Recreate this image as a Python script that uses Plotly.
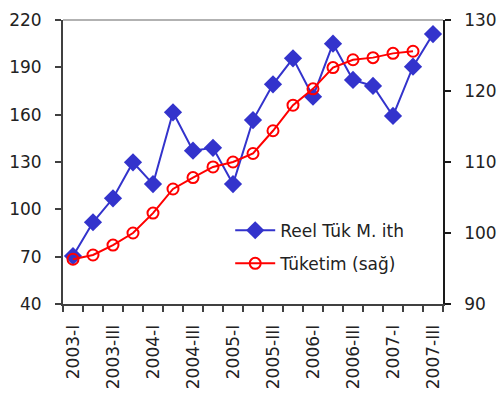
import plotly.graph_objects as go

quarters = ["2003-I", "2003-II", "2003-III", "2003-IV",
            "2004-I", "2004-II", "2004-III", "2004-IV",
            "2005-I", "2005-II", "2005-III", "2005-IV",
            "2006-I", "2006-II", "2006-III", "2006-IV",
            "2007-I", "2007-II", "2007-III"]
reel_tuk_m_ith = [70.4, 91.8, 107.0, 129.8, 116.0, 161.5, 137.2, 139.0,
                  116.0, 156.6, 179.2, 195.7, 171.4, 205.0, 182.0, 178.2,
                  159.2, 190.4, 211.1]
tuketim = [96.3, 96.9, 98.3, 100.0, 102.8, 106.2, 107.8, 109.3, 110.0,
           111.2, 114.4, 118.0, 120.3, 123.3, 124.4, 124.7, 125.3, 125.6]

x_idx = list(range(len(quarters)))
FONT = "DejaVu Sans"

fig = go.Figure()
fig.add_trace(go.Scatter(
    x=x_idx, y=reel_tuk_m_ith, name="Reel Tük M. ith", mode="lines+markers",
    legendgroup="a",
    line=dict(color="#3333CC", width=2),
    marker=dict(symbol="diamond", size=14, color="#3333CC"),
))
fig.add_trace(go.Scatter(
    x=x_idx[:len(tuketim)], y=tuketim, name="Tüketim (sağ)", mode="lines+markers",
    yaxis="y2", legendgroup="b",
    line=dict(color="#FF0000", width=2),
    marker=dict(symbol="circle-open", size=11, color="#FF0000", line=dict(width=2)),
))

fig.update_layout(
    width=501, height=403,
    margin=dict(l=63, r=58, t=20, b=99, autoexpand=False),
    paper_bgcolor="white", plot_bgcolor="white",
    font=dict(family=FONT, size=17, color="#222222"),
    showlegend=True,
    legend=dict(x=0.44, y=0.20, xanchor="left", yanchor="middle",
                bgcolor="rgba(0,0,0,0)", font=dict(size=17),
                traceorder="grouped", tracegroupgap=8, itemwidth=40),
    xaxis=dict(
        range=[-0.5, len(quarters) - 0.5], automargin=False,
        tickmode="array", tickvals=x_idx[::2], ticktext=quarters[::2],
        tickangle=-90, ticks="outside", ticklen=6, tickcolor="rgba(0,0,0,0)",
        showgrid=False, zeroline=False,
        showline=True, linecolor="#404040", linewidth=2,
        minor=dict(tickmode="array", tickvals=[i - 0.5 for i in range(len(quarters) + 1)],
                   ticks="outside", ticklen=6, tickcolor="#404040", tickwidth=1.5),
        ticklabelstandoff=6,
    ),
    yaxis=dict(
        range=[40, 220], tickmode="linear", tick0=40, dtick=30, automargin=False,
        ticks="outside", ticklen=6, tickcolor="#404040", tickwidth=1.5,
        showgrid=False, zeroline=False,
        showline=True, linecolor="#404040", linewidth=2,
        ticklabelstandoff=10,
    ),
    yaxis2=dict(
        range=[90, 130], tickmode="linear", tick0=90, dtick=10, automargin=False,
        overlaying="y", side="right",
        ticks="outside", ticklen=6, tickcolor="#1a1a1a", tickwidth=1.5,
        showgrid=False, zeroline=False,
        showline=True, linecolor="#1a1a1a", linewidth=1.5,
        ticklabelstandoff=10,
    ),
    shapes=[dict(type="line", xref="paper", yref="paper", x0=0, x1=1, y0=1, y1=1,
                 line=dict(color="#999999", width=1.5))],
)

fig.write_html("out.html")
